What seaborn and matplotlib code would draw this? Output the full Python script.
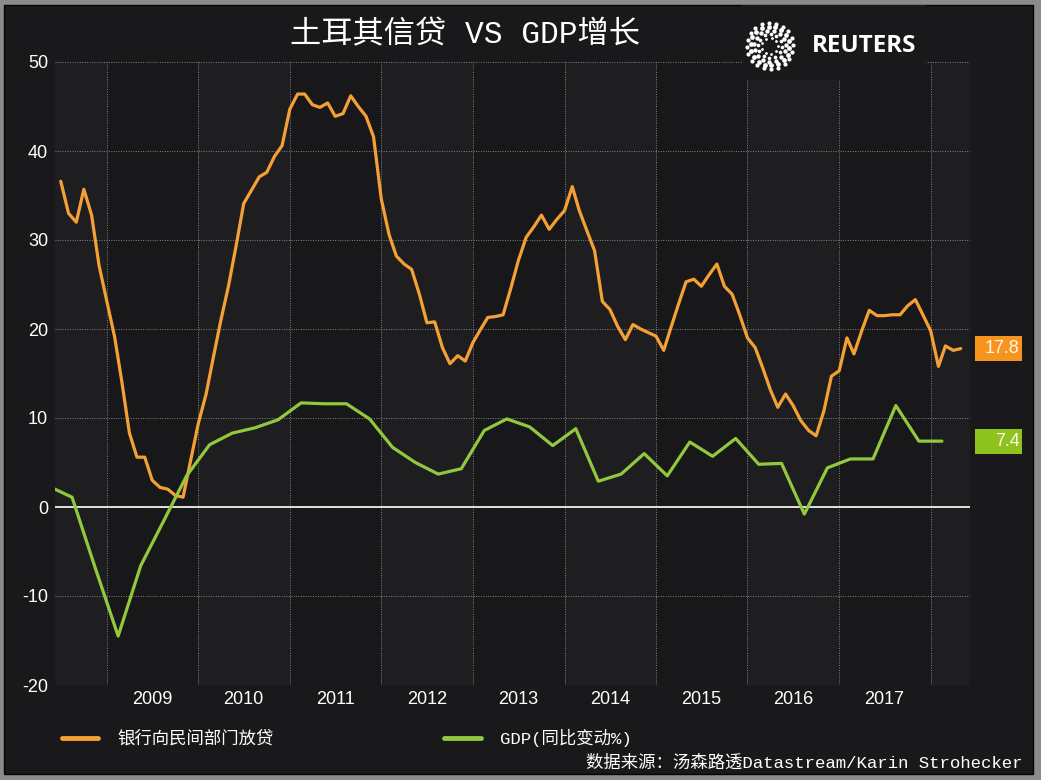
import numpy as np
import pandas as pd
import seaborn as sns
import matplotlib.pyplot as plt
import matplotlib.dates as mdates
import matplotlib.transforms as mtransforms
from matplotlib.patches import Rectangle
from matplotlib.font_manager import FontProperties

# monthly bank lending to private sector, y/y %, Jul 2008 - May 2018
loan_start = "2008-07-01"
loan_growth = [
    36.6, 33.0, 32.0, 35.7, 32.8, 27.1,
    23.1, 19.1, 14.2, 8.3, 5.6, 5.6, 3.0, 2.2, 2.0, 1.3, 1.1, 5.2,
    9.4, 12.7, 16.7, 21.0, 24.8, 29.4, 34.1, 35.6, 37.1, 37.6, 39.4, 40.6,
    44.7, 46.4, 46.4, 45.2, 44.9, 45.4, 43.9, 44.2, 46.2, 45.0, 43.9, 41.6,
    34.6, 30.6, 28.2, 27.3, 26.7, 23.9, 20.7, 20.8, 17.9, 16.1, 17.0, 16.4,
    18.5, 20.0, 21.3, 21.4, 21.6, 24.6, 27.7, 30.3, 31.5, 32.8, 31.2, 32.3,
    33.3, 36.0, 33.3, 31.0, 28.8, 23.1, 22.2, 20.3, 18.8, 20.5, 20.0, 19.6,
    19.2, 17.6, 20.1, 22.8, 25.3, 25.6, 24.8, 26.1, 27.3, 24.8, 23.9, 21.6,
    19.0, 17.9, 15.7, 13.2, 11.2, 12.7, 11.4, 9.7, 8.6, 8.0, 10.8, 14.7,
    15.3, 19.0, 17.2, 19.8, 22.1, 21.5, 21.5, 21.6, 21.6, 22.6, 23.3, 21.6,
    19.8, 15.8, 18.1, 17.6, 17.8,
]

# quarterly GDP growth, y/y %, Q2 2008 - Q1 2018
gdp_start = "2008-04-01"
gdp_growth = [
    2.3, 1.1, -6.8,
    -14.5, -6.6, -1.6, 3.5,
    7.0, 8.3, 8.9, 9.8,
    11.7, 11.6, 11.6, 9.9,
    6.7, 5.0, 3.7, 4.3,
    8.6, 9.9, 9.0, 6.9,
    8.8, 2.9, 3.7, 6.0,
    3.5, 7.3, 5.7, 7.7,
    4.8, 4.9, -0.8, 4.4,
    5.4, 5.4, 11.4, 7.4,
    7.4,
]

years = list(range(2009, 2018))
year_labels = [str(y) for y in years]
y_ticks = [-20, -10, 0, 10, 20, 30, 40, 50]

title = "土耳其信贷 VS GDP增长"
loan_name = "银行向民间部门放贷"
gdp_name = "GDP(同比变动%)"
source = "数据来源：汤森路透Datastream/Karin Strohecker"

orange = "#f5a035"
green = "#92c83e"
bg = "#19191b"

loans = pd.DataFrame({
    "date": pd.date_range(loan_start, periods=len(loan_growth), freq="MS"),
    "value": loan_growth,
})
gdp = pd.DataFrame({
    "date": pd.date_range(gdp_start, periods=len(gdp_growth), freq="QS") + pd.Timedelta(days=45),
    "value": gdp_growth,
})

sns.set_theme(style="dark")
plt.rcParams["font.family"] = ["Liberation Sans", "Noto Sans CJK SC"]
plt.rcParams["axes.unicode_minus"] = False
mono_cjk = ["Liberation Mono", "Noto Sans CJK SC"]

fig = plt.figure(figsize=(10.41, 7.8), dpi=100)
fig.patch.set_facecolor("#8b8b8b")
fig.patches.append(Rectangle((4 / 1041, 1 - 774 / 780), 1029 / 1041, 769 / 780,
                             transform=fig.transFigure, facecolor=bg,
                             edgecolor="#050505", lw=1, zorder=-5))

ax = fig.add_axes([55 / 1041, 1 - 685 / 780, 915 / 1041, 623 / 780])
ax.set_facecolor("#1a1a1d")

# alternating year bands (subtle)
for y in range(2008, 2019):
    shade = "#1e1e21" if y % 2 == 0 else "#18181a"
    ax.axvspan(pd.Timestamp(f"{y}-01-01"), pd.Timestamp(f"{y + 1}-01-01"),
               color=shade, lw=0, zorder=0)

sns.lineplot(data=loans, x="date", y="value", ax=ax, color=orange, lw=2.3,
             label=loan_name, zorder=4, legend=False)
sns.lineplot(data=gdp, x="date", y="value", ax=ax, color=green, lw=2.3,
             label=gdp_name, zorder=4, legend=False)
h_loan, h_gdp = ax.lines[0], ax.lines[1]

ax.axhline(0, color="white", lw=1.2, zorder=3)

ax.set_xlim(pd.Timestamp("2008-06-08"), pd.Timestamp("2018-06-07"))
ax.set_ylim(-20, 50)
ax.set_xticks([mdates.date2num(pd.Timestamp(f"{y}-07-01")) for y in years])
ax.set_xticklabels(year_labels)
ax.set_xticks([mdates.date2num(pd.Timestamp(f"{y}-01-01")) for y in range(2009, 2019)], minor=True)
ax.set_yticks(y_ticks)
ax.set_xlabel("")
ax.set_ylabel("")

ax.grid(False)
ax.xaxis.grid(True, which="minor", color="#858585", ls=(0, (1, 1.5)), lw=0.7)
ax.yaxis.grid(True, which="major", color="#858585", ls=(0, (1, 1.5)), lw=0.7)
ax.set_axisbelow(True)
for s in ax.spines.values():
    s.set_visible(False)
ax.tick_params(axis="both", which="both", length=0, colors="white", labelsize=13)
ax.tick_params(axis="x", pad=4)
ax.tick_params(axis="y", pad=5)

# last-value tags on the right
trans = mtransforms.blended_transform_factory(ax.transAxes, ax.transData)
for val, col in [(loan_growth[-1], "#f7941d"), (gdp_growth[-1], "#8dc21f")]:
    ax.add_patch(Rectangle((1.0055, val - 1.4), 0.0514, 2.8, transform=trans,
                           facecolor=col, edgecolor="none", clip_on=False, zorder=5))
    ax.text(1.054, val, f"{val:.1f}", transform=trans, ha="right", va="center",
            color="#fff6e6", fontsize=13, zorder=6, clip_on=False)

# title
fig.text(465 / 1041, 1 - 35 / 780, title, ha="center", va="center", color="white",
         fontsize=22.5, family=mono_cjk)

# Reuters block covering the grid
fig.patches.append(Rectangle((742 / 1041, 1 - 80 / 780), 184 / 1041, 75 / 780,
                             transform=fig.transFigure, facecolor=bg,
                             edgecolor="none", zorder=2))
lax = fig.add_axes([(770 - 25) / 1041, 1 - (46 + 25) / 780, 50 / 1041, 50 / 780], zorder=3)
lax.set_xlim(-1.05, 1.05)
lax.set_ylim(-1.05, 1.05)
lax.set_aspect("equal")
lax.axis("off")
for r, n, s in [(0.34, 9, 4), (0.50, 12, 7), (0.66, 15, 10), (0.82, 18, 12), (0.97, 20, 9)]:
    ang = np.linspace(0, 2 * np.pi, n, endpoint=False) + r * 2
    lax.scatter(r * np.cos(ang), r * np.sin(ang), s=s, color="white", lw=0)
fig.text(812 / 1041, 1 - 46 / 780, "REUTERS", ha="left", va="center", color="white",
         fontsize=17.5, family="Open Sans", weight="bold")

# legend
leg = fig.legend([h_loan, h_gdp], [loan_name, gdp_name], loc="center left",
                 bbox_to_anchor=(62 / 1041, 1 - 738 / 780), ncol=2, frameon=False,
                 borderpad=0, borderaxespad=0, handlelength=2.1, handletextpad=1.1,
                 columnspacing=9.8, prop=FontProperties(family=mono_cjk, size=12.5))
for t in leg.get_texts():
    t.set_color("white")
for ln in leg.get_lines():
    ln.set_linewidth(3.5)

fig.text(1022 / 1041, 1 - 763 / 780, source, ha="right", va="center", color="white",
         fontsize=12.5, family=mono_cjk)

fig.savefig("out.png", dpi=100, facecolor=fig.get_facecolor())
